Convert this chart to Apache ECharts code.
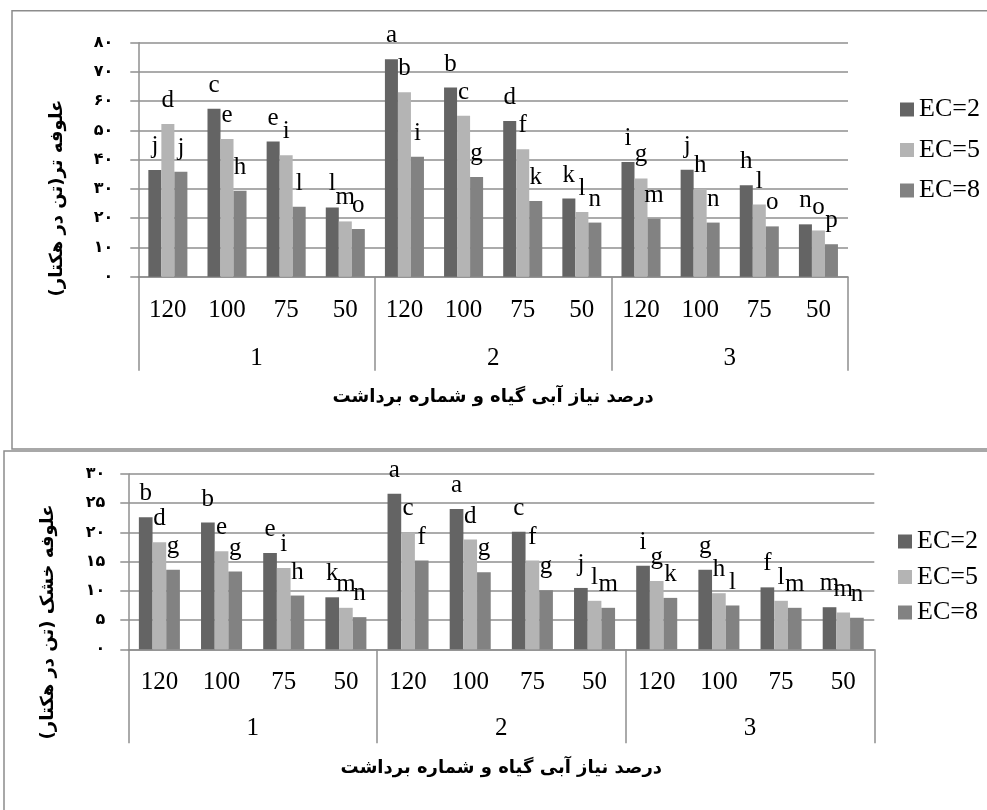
<!DOCTYPE html>
<html>
<head>
<meta charset="utf-8">
<script src="https://cdn.jsdelivr.net/npm/echarts@6/dist/echarts.min.js"></script>
<style>
html,body{margin:0;padding:0;background:#fff;}
#chart{width:987px;height:810px;}
</style>
</head>
<body>
<div id="chart"></div>
<script>
// ---- data ----
const subCats = ['120','100','75','50','120','100','75','50','120','100','75','50'];
const harvests = ['1','2','3'];
const seriesNames = ['EC=2','EC=5','EC=8'];

const freshYTicksMax = 80, freshYStep = 10;
const dryYTicksMax = 30, dryYStep = 5;

const freshEC2 = [36.5,57.4,46.2,23.7,74.3,64.7,53.2,26.7,39.2,36.6,31.3,17.9];
const freshEC5 = [52.2,47.1,41.5,18.9,63.1,55.0,43.6,22.1,33.6,30.0,24.7,15.8];
const freshEC8 = [35.9,29.4,23.9,16.3,41.0,34.1,25.9,18.5,19.8,18.5,17.2,11.1];
const freshEC2Letters = ['j','c','e','l','a','b','d','k','i','j','h','n'];
const freshEC5Letters = ['d','e','i','m','b','c','f','l','g','h','l','o'];
const freshEC8Letters = ['j','h','l','o','i','g','k','n','m','n','o','p'];

const dryEC2 = [22.6,21.7,16.5,8.9,26.6,24.0,20.1,10.5,14.3,13.6,10.6,7.2];
const dryEC5 = [18.3,16.8,13.9,7.1,20.0,18.8,15.2,8.3,11.7,9.6,8.3,6.3];
const dryEC8 = [13.6,13.3,9.2,5.5,15.2,13.2,10.1,7.1,8.8,7.5,7.1,5.4];
const dryEC2Letters = ['b','b','e','k','a','a','c','j','i','g','f','m'];
const dryEC5Letters = ['d','e','i','m','c','d','f','l','g','h','l','m'];
const dryEC8Letters = ['g','g','h','n','f','g','g','m','k','l','m','n'];

const xTitle = 'درصد نیاز آبی گیاه و شماره برداشت';
const freshYTitle = 'علوفه تر(تن در هکتار)';
const dryYTitle = 'علوفه خشک (تن در هکتار)';

// ---- styles ----
const colors = ['#646464', '#b4b4b4', '#828282'];
const gridColor = '#8f8f8f';
const serif = 'Liberation Serif';
const persian = 'DejaVu Sans';

function toPersian(v){
  const d = '۰۱۲۳۴۵۶۷۸۹';
  return String(v).replace(/[0-9]/g, c => d[+c]);
}

function yAxisCfg(gridIndex, max, step, margin){
  return {
    type:'value', gridIndex, min:0, max, interval:step,
    axisLine:{show:true, lineStyle:{color:gridColor, width:1.5}},
    axisTick:{show:true, length:8, lineStyle:{color:gridColor, width:1.5}},
    splitLine:{show:true, lineStyle:{color:gridColor, width:1.5}},
    axisLabel:{formatter:v => toPersian(v), fontFamily:persian, fontWeight:'bold', fontSize:16, color:'#000', margin}
  };
}
function subAxisCfg(gridIndex){
  return {
    type:'category', gridIndex, data:subCats, position:'bottom',
    axisLine:{show:true, lineStyle:{color:gridColor, width:1.5}},
    axisTick:{show:false},
    axisLabel:{interval:0, fontFamily:serif, fontSize:25, color:'#000', margin:21}
  };
}
function groupAxisCfg(gridIndex, tickLen, labelMargin, nameGap){
  return {
    type:'category', gridIndex, data:harvests, position:'bottom',
    axisLine:{show:false},
    axisTick:{show:true, length:tickLen, interval:0, lineStyle:{color:gridColor, width:1.5}},
    axisLabel:{interval:0, fontFamily:serif, fontSize:25, color:'#000', margin:labelMargin},
    name:xTitle, nameLocation:'middle', nameGap,
    nameTextStyle:{fontFamily:persian, fontWeight:'bold', fontSize:18, color:'#000'}
  };
}
function barSeries(name, data, letters, color, xi, yi){
  return {
    name, type:'bar', xAxisIndex:xi, yAxisIndex:yi, data,
    barGap:'0%', barCategoryGap:'34%',
    itemStyle:{color},
    label:{show:true, position:'top', distance:11, fontFamily:serif, fontSize:25, color:'#000',
      formatter:p => letters[p.dataIndex]}
  };
}

const chart = echarts.init(document.getElementById('chart'));
chart.setOption({
  animation:false,
  backgroundColor:'#fff',
  grid:[
    {left:138.3, top:42.7, width:709.7, height:234, outerBoundsMode:'none', containLabel:false},
    {left:128.3, top:474, width:746, height:175.3, outerBoundsMode:'none', containLabel:false}
  ],
  xAxis:[
    subAxisCfg(0),
    groupAxisCfg(0, 94, 69, 112),
    subAxisCfg(1),
    groupAxisCfg(1, 94, 67, 110)
  ],
  yAxis:[
    yAxisCfg(0, freshYTicksMax, freshYStep, 25),
    yAxisCfg(1, dryYTicksMax, dryYStep, 23)
  ],
  legend:[
    {data:seriesNames, orient:'vertical', left:895, top:91.5, itemWidth:14, itemHeight:14, itemGap:14.5, icon:'rect',
      textStyle:{fontFamily:serif, fontSize:26, color:'#000'}, selectedMode:false},
    {data:seriesNames, orient:'vertical', left:893, top:523.5, itemWidth:14, itemHeight:14, itemGap:9.5, icon:'rect',
      textStyle:{fontFamily:serif, fontSize:26, color:'#000'}, selectedMode:false}
  ],
  graphic:[
    {type:'rect', shape:{x:12, y:10.7, width:1000, height:438.3}, style:{fill:'none', stroke:'#8c8c8c', lineWidth:1.5}, silent:true},
    {type:'rect', shape:{x:4, y:451, width:1000, height:400}, style:{fill:'none', stroke:'#8c8c8c', lineWidth:1.5}, silent:true},
    {type:'text', x:57, y:198, rotation:Math.PI/2,
      style:{text:freshYTitle, fontFamily:persian, fontWeight:'bold', fontSize:18, fill:'#000', align:'center', verticalAlign:'middle'}},
    {type:'text', x:48, y:622, rotation:Math.PI/2,
      style:{text:dryYTitle, fontFamily:persian, fontWeight:'bold', fontSize:18, fill:'#000', align:'center', verticalAlign:'middle'}}
  ],
  series:[
    barSeries(seriesNames[0], freshEC2, freshEC2Letters, colors[0], 0, 0),
    barSeries(seriesNames[1], freshEC5, freshEC5Letters, colors[1], 0, 0),
    barSeries(seriesNames[2], freshEC8, freshEC8Letters, colors[2], 0, 0),
    barSeries(seriesNames[0], dryEC2, dryEC2Letters, colors[0], 2, 1),
    barSeries(seriesNames[1], dryEC5, dryEC5Letters, colors[1], 2, 1),
    barSeries(seriesNames[2], dryEC8, dryEC8Letters, colors[2], 2, 1)
  ]
});
</script>
</body>
</html>
